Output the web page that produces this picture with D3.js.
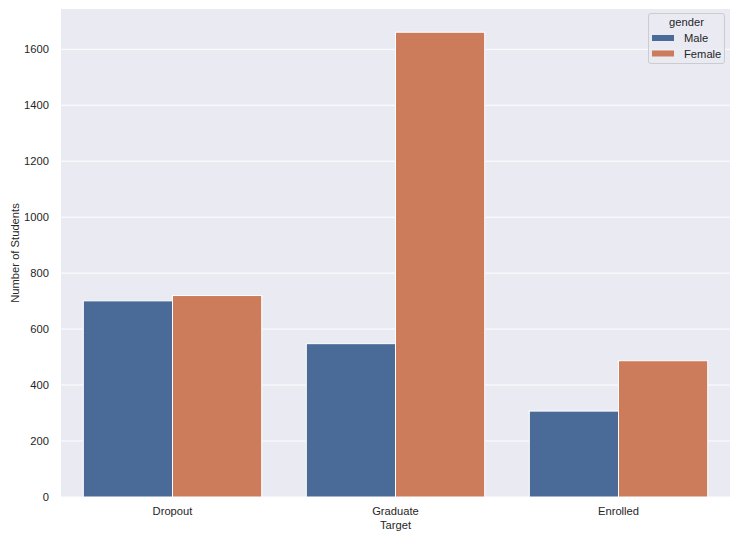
<!DOCTYPE html>
<html><head><meta charset="utf-8">
<script src="https://cdn.jsdelivr.net/npm/d3@7"></script>
<style>body{margin:0;background:#fff}text{font-family:Arial,"Liberation Sans",sans-serif;fill:#262626}</style>
</head><body><svg id="c" width="736" height="536"></svg>
<script>
const categories = ["Dropout", "Graduate", "Enrolled"];
const genders = ["Male", "Female"];
const maleValues = [701, 548, 307];
const femaleValues = [720, 1661, 487];
const yTicks = [0, 200, 400, 600, 800, 1000, 1200, 1400, 1600];
const colors = ["#4a6b98", "#cc7c5b"];

const svg = d3.select("#c");
const L = 61, R = 730, T = 9, B = 497;
const FS = 11.2;
const data = categories.map((c, i) => ({cat: c, vals: [maleValues[i], femaleValues[i]]}));
const maxV = d3.max([...maleValues, ...femaleValues]);
const x = d3.scaleBand().domain(categories).range([L, R]).paddingInner(0).paddingOuter(0);
const xi = d3.scaleBand().domain(genders).range([x.bandwidth()*0.1, x.bandwidth()*0.9]);
const y = d3.scaleLinear().domain([0, maxV*1.05]).range([B, T]);

svg.append("rect").attr("x", L).attr("y", T).attr("width", R-L).attr("height", B-T).attr("fill", "#eaeaf2");
svg.append("g").selectAll("line").data(yTicks).join("line")
  .attr("x1", L).attr("x2", R).attr("y1", d => y(d)).attr("y2", d => y(d))
  .attr("stroke", "#fff").attr("stroke-width", 1);

const yAxis = svg.append("g").attr("transform", `translate(${L},0)`)
  .call(d3.axisLeft(y).tickValues(yTicks).tickFormat(d3.format("d")).tickSize(0).tickPadding(12));
yAxis.select(".domain").remove();
yAxis.selectAll("text").attr("font-size", FS).style("font-family", "Arial, 'Liberation Sans', sans-serif").attr("fill", "#262626");

const xAxis = svg.append("g").attr("transform", `translate(0,${B})`)
  .call(d3.axisBottom(x).tickSize(0).tickPadding(10));
xAxis.select(".domain").remove();
xAxis.selectAll("text").attr("font-size", FS).style("font-family", "Arial, 'Liberation Sans', sans-serif").attr("fill", "#262626");

const g = svg.append("g").selectAll("g").data(data).join("g")
  .attr("transform", d => `translate(${x(d.cat)},0)`);
g.selectAll("rect").data(d => d.vals.map((v, j) => ({g: genders[j], v, j}))).join("rect")
  .attr("x", d => xi(d.g)).attr("width", xi.bandwidth())
  .attr("y", d => y(d.v)).attr("height", d => B - y(d.v))
  .attr("fill", d => colors[d.j]).attr("stroke", "#fff").attr("stroke-width", 1);

svg.append("text").attr("x", (L+R)/2).attr("y", 529).attr("text-anchor", "middle").attr("font-size", FS).text("Target");
svg.append("text").attr("transform", `translate(19,${(T+B)/2}) rotate(-90)`).attr("text-anchor", "middle").attr("font-size", FS).text("Number of Students");

// legend
const lg = svg.append("g");
lg.append("rect").attr("x", 648.5).attr("y", 13.5).attr("width", 76).attr("height", 50).attr("rx", 2.5)
  .attr("fill", "#eaeaf2").attr("fill-opacity", 0.8).attr("stroke", "#cccccc");
lg.append("text").attr("x", 686.5).attr("y", 26).attr("text-anchor", "middle").attr("font-size", FS).text("gender");
genders.forEach((gn, j) => {
  lg.append("rect").attr("x", 652).attr("y", 35 + j*15.5).attr("width", 22).attr("height", 6).attr("fill", colors[j]);
  lg.append("text").attr("x", 684).attr("y", 42 + j*15.5).attr("font-size", FS).text(gn);
});
</script></body></html>
